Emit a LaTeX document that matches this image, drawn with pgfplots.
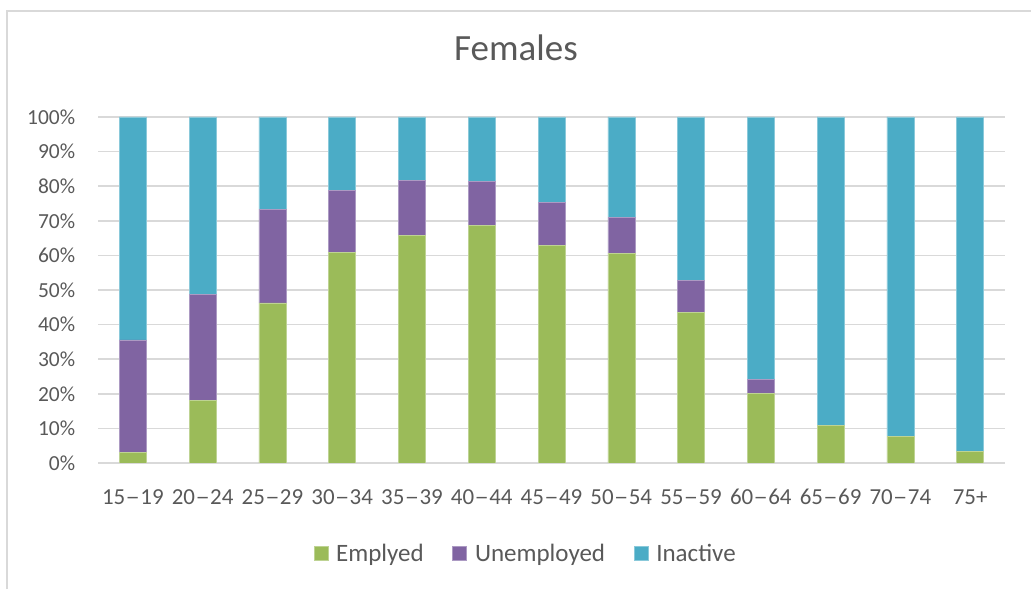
\documentclass[border=0pt]{standalone}
\usepackage{fontspec}
\setmainfont{Carlito}
\usepackage{graphicx}
\usepackage{pgfplots}
\pgfplotsset{compat=1.18}

\definecolor{empgreen}{HTML}{9BBB59}
\definecolor{unpurple}{HTML}{8064A2}
\definecolor{inacblue}{HTML}{4BACC6}
\definecolor{txtgray}{HTML}{595959}
\definecolor{gridgray}{HTML}{D9D9D9}

% age band label: lower--upper with a slightly wider dash
\newcommand\band[2]{#1\kern0.3pt\scalebox{1.25}[1]{--}\kern0.3pt#2}

\begin{document}
\begin{tikzpicture}
\useasboundingbox (0,0) rectangle (773.25pt,441.75pt);
% chart area frame
\draw[gridgray, line width=1.2pt] (5.25pt,0pt) -- (5.25pt,433.5pt) -- (773.25pt,433.5pt);
% title
\node[anchor=base, text=txtgray, font=\fontsize{27.75}{33}\selectfont, inner sep=0pt]
  at (387pt,396.2pt) {Females};

\begin{axis}[
  at={(73.5pt,94.5pt)}, anchor=south west,
  scale only axis,
  width=680.25pt, height=259.5pt,
  ybar stacked,
  bar width=20.25pt,
  xmin=-0.5, xmax=12.5,
  ymin=0, ymax=100,
  enlargelimits=false,
  axis line style={draw=none},
  major tick length=0pt,
  xtick={0,1,...,12},
  xticklabels={\band{15}{19},\band{20}{24},\band{25}{29},\band{30}{34},\band{35}{39},
    \band{40}{44},\band{45}{49},\band{50}{54},\band{55}{59},\band{60}{64},
    \band{65}{69},\band{70}{74},75+},
  ytick={0,10,...,100},
  yticklabels={0\%,10\%,20\%,30\%,40\%,50\%,60\%,70\%,80\%,90\%,100\%},
  /pgf/number format/assume math mode=true,
  ymajorgrids,
  major grid style={gridgray, line width=1.1pt},
  tick label style={text=txtgray},
  yticklabel style={font=\fontsize{16.1}{19}\selectfont, anchor=east, inner sep=0pt, xshift=-16.9pt},
  xticklabel style={font=\fontsize{17.2}{20}\selectfont, anchor=base, inner sep=0pt, yshift=-30.8pt},
  legend style={
    at={(0.4719,-0.263)}, anchor=center,
    draw=none, fill=none,
    legend columns=3,
    font=\fontsize{18.75}{22}\selectfont,
    text=txtgray,
    /tikz/every odd column/.append style={column sep=4pt},
    /tikz/every even column/.append style={column sep=19.5pt},
  },
  legend image code/.code={\fill[#1] (0pt,-5pt) rectangle (10.5pt,5.5pt);},
]
% employed share, %
\addplot[fill=empgreen, draw=empgreen!65!white, line width=0.4pt]
  coordinates {(0,3.0) (1,18.0) (2,46.3) (3,60.9) (4,65.8) (5,68.6) (6,63.0)
               (7,60.6) (8,43.6) (9,20.1) (10,10.9) (11,7.7) (12,3.4)};
% unemployed share, %
\addplot[fill=unpurple, draw=unpurple!65!white, line width=0.4pt]
  coordinates {(0,32.6) (1,30.7) (2,27.1) (3,18.0) (4,15.9) (5,12.7) (6,12.3)
               (7,10.4) (8,9.1) (9,4.0) (10,0) (11,0) (12,0)};
% inactive share, %
\addplot[fill=inacblue, draw=inacblue!65!white, line width=0.4pt]
  coordinates {(0,64.4) (1,51.3) (2,26.6) (3,21.1) (4,18.3) (5,18.7) (6,24.7)
               (7,29.0) (8,47.3) (9,75.9) (10,89.1) (11,92.3) (12,96.6)};
\legend{Emplyed,Unemployed,Inactive}
\end{axis}
\end{tikzpicture}
\end{document}
